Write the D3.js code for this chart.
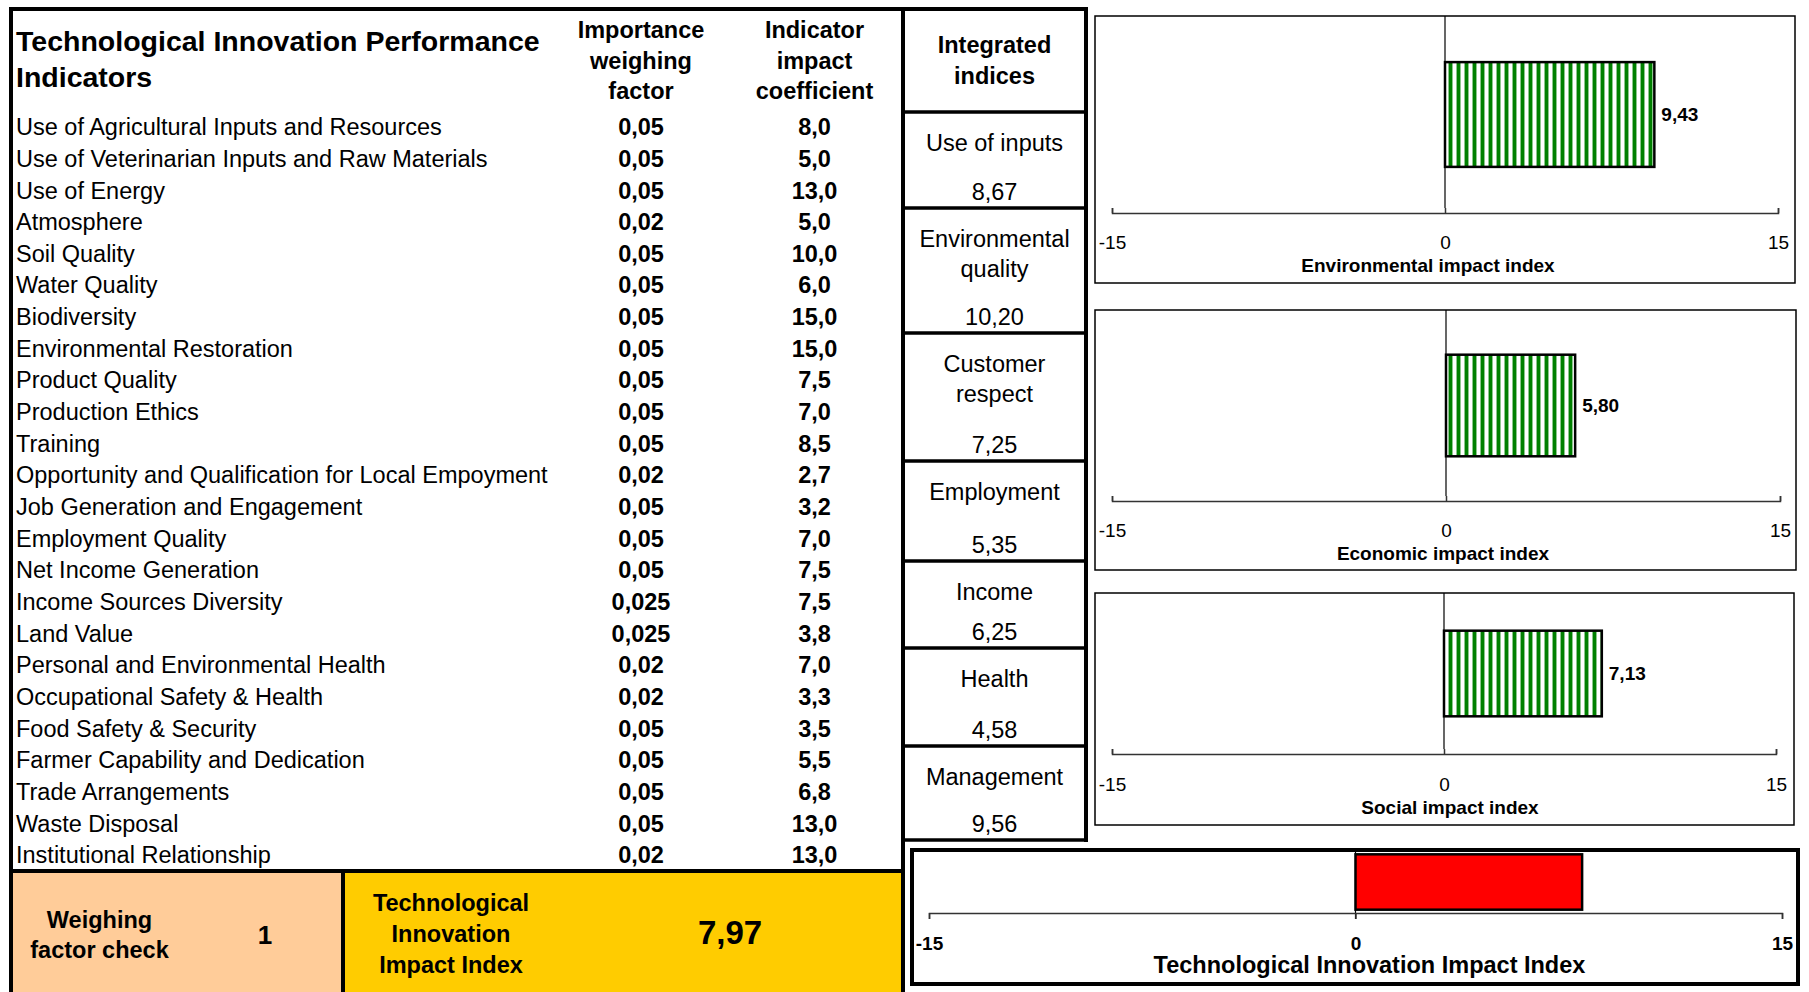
<!DOCTYPE html>
<html>
<head>
<meta charset="utf-8">
<script src="https://cdn.jsdelivr.net/npm/d3@7"></script>
<style>
  body { margin: 0; background: #fff; }
  svg { display: block; }
  text { font-family: "Liberation Sans", Arial, sans-serif; fill: #000; }
</style>
</head>
<body>
<svg id="chart" width="1809" height="992"></svg>
<script>
// ---- data ----
var indicators = [
    "Use of Agricultural Inputs and Resources",
    "Use of Veterinarian Inputs and Raw Materials",
    "Use of Energy",
    "Atmosphere",
    "Soil Quality",
    "Water Quality",
    "Biodiversity",
    "Environmental Restoration",
    "Product Quality",
    "Production Ethics",
    "Training",
    "Opportunity and Qualification for Local Empoyment",
    "Job Generation and Engagement",
    "Employment Quality",
    "Net Income Generation",
    "Income Sources Diversity",
    "Land Value",
    "Personal and Environmental Health",
    "Occupational Safety & Health",
    "Food Safety & Security",
    "Farmer Capability and Dedication",
    "Trade Arrangements",
    "Waste Disposal",
    "Institutional Relationship"
];
var weights = [0.05, 0.05, 0.05, 0.02, 0.05, 0.05, 0.05, 0.05, 0.05, 0.05, 0.05, 0.02,
               0.05, 0.05, 0.05, 0.025, 0.025, 0.02, 0.02, 0.05, 0.05, 0.05, 0.05, 0.02];
var coefficients = [8.0, 5.0, 13.0, 5.0, 10.0, 6.0, 15.0, 15.0, 7.5, 7.0, 8.5, 2.7,
                    3.2, 7.0, 7.5, 7.5, 3.8, 7.0, 3.3, 3.5, 5.5, 6.8, 13.0, 13.0];

var indexNames = ["Use of inputs", "Environmental quality", "Customer respect",
                  "Employment", "Income", "Health", "Management"];
var indexValues = [8.67, 10.20, 7.25, 5.35, 6.25, 4.58, 9.56];

var impactNames = ["Environmental impact index", "Economic impact index", "Social impact index"];
var impactValues = [9.43, 5.80, 7.13];
var tiName = "Technological Innovation Impact Index";
var tiValue = 7.97;
var xTicks = [-15, 0, 15];

var tableTitle = ["Technological Innovation Performance", "Indicators"];
var columnHeads = [["Importance", "weighing", "factor"], ["Indicator", "impact", "coefficient"]];

// ---- layout ----
var FS = 23.5;
var rowTop = 127, rowBottom = 855;
var colWeight = 641, colCoef = 814.5;
var indexLeft = 903, indexRight = 1086;
var indexEdges = [112, 208, 333, 461, 561, 648, 746, 840];

var locale = d3.formatLocale({decimal: ",", thousands: ".", grouping: [3], currency: ["", ""]});
var f1 = locale.format(".1f"), f2 = locale.format(".2f");

var svg = d3.select("#chart");

// excel-like "wide vertical" stripe fill
var defs = svg.append("defs");
var pat = defs.append("pattern")
    .attr("id", "stripes")
    .attr("patternUnits", "userSpaceOnUse")
    .attr("width", 8).attr("height", 10);
pat.append("rect").attr("width", 8).attr("height", 10).attr("fill", "#fff");
pat.append("rect").attr("x", 0).attr("width", 5).attr("height", 10).attr("fill", "#8cc68c");
pat.append("rect").attr("x", 1).attr("width", 3).attr("height", 10).attr("fill", "#008000");

function label(g, x, y, txt, size, bold, anchor) {
    return g.append("text")
        .attr("x", x).attr("y", y).attr("dy", "0.35em")
        .attr("text-anchor", anchor || "start")
        .style("font-size", size + "px")
        .style("font-weight", bold ? "bold" : "normal")
        .text(txt);
}

// ---- table ----
var table = svg.append("g");

table.append("rect").attr("x", 13).attr("y", 873).attr("width", 328).attr("height", 130).attr("fill", "#FFCC99");
table.append("rect").attr("x", 345).attr("y", 873).attr("width", 556).attr("height", 130).attr("fill", "#FFCC00");

tableTitle.forEach(function (t, i) {
    label(table, 16, 41.5 + i * 35.5, t, 28.5, true);
});
columnHeads.forEach(function (lines, c) {
    lines.forEach(function (t, i) {
        label(table, c === 0 ? colWeight : colCoef, 30 + i * 30.5, t, FS, true, "middle");
    });
});

var yRow = d3.scalePoint().domain(d3.range(indicators.length)).range([rowTop, rowBottom]);

table.selectAll(".ind").data(indicators).enter().append("text")
    .attr("class", "ind")
    .attr("x", 16).attr("y", function (d, i) { return yRow(i); }).attr("dy", "0.35em")
    .style("font-size", FS + "px")
    .text(function (d) { return d; });

table.selectAll(".w").data(weights).enter().append("text")
    .attr("class", "w")
    .attr("x", colWeight).attr("y", function (d, i) { return yRow(i); }).attr("dy", "0.35em")
    .attr("text-anchor", "middle")
    .style("font-size", FS + "px").style("font-weight", "bold")
    .text(function (d) { return String(d).replace(".", ","); });

table.selectAll(".c").data(coefficients).enter().append("text")
    .attr("class", "c")
    .attr("x", colCoef).attr("y", function (d, i) { return yRow(i); }).attr("dy", "0.35em")
    .attr("text-anchor", "middle")
    .style("font-size", FS + "px").style("font-weight", "bold")
    .text(function (d) { return f1(d); });

// integrated indices column
var cx = (indexLeft + indexRight) / 2;
label(table, cx, 45, "Integrated", FS, true, "middle");
label(table, cx, 76, "indices", FS, true, "middle");

indexNames.forEach(function (name, i) {
    var top = indexEdges[i], bottom = indexEdges[i + 1];
    var t = label(table, cx, top + 31, name, FS, false, "middle");
    if (t.node().getComputedTextLength() > 170) {
        var words = name.split(" ");
        t.text(words[0]);
        label(table, cx, top + 61, words.slice(1).join(" "), FS, false, "middle");
    }
    label(table, cx, bottom - 16, f2(indexValues[i]), FS, false, "middle");
});

// bottom boxes
var check = Math.round(d3.sum(weights) * 1000) / 1000;
label(table, 99.5, 919.5, "Weighing", FS, true, "middle");
label(table, 99.5, 949.5, "factor check", FS, true, "middle");
label(table, 265, 934.5, check, 26, true, "middle");
["Technological", "Innovation", "Impact Index"].forEach(function (t, i) {
    label(table, 451, 903 + i * 30.8, t, FS, true, "middle");
});
label(table, 730, 932, f2(tiValue), 33, true, "middle");

// borders
var lines = table.append("g").attr("stroke", "#000").attr("fill", "none");
lines.append("path").attr("stroke-width", 4).attr("d", "M9,9H" + (indexRight + 2));
lines.append("path").attr("stroke-width", 4).attr("d", "M11,7V992");
lines.append("path").attr("stroke-width", 4).attr("d", "M" + indexLeft + ",7V992");
lines.append("path").attr("stroke-width", 4).attr("d", "M" + indexRight + ",7V" + (indexEdges[7] + 2));
indexEdges.forEach(function (y) {
    lines.append("path").attr("stroke-width", 3.5).attr("d", "M" + indexLeft + "," + y + "H" + (indexRight + 2));
});
lines.append("path").attr("stroke-width", 4).attr("d", "M9,871H" + (indexLeft + 2));
lines.append("path").attr("stroke-width", 4).attr("d", "M343,871V992");

// ---- impact charts ----
var chartBoxes = [
    {x0: 1095, y0: 16,  x1: 1795, y1: 283, axisY: 213, r: [1112, 1778], tickY: 242, titleY: 265, shift: -17},
    {x0: 1095, y0: 310, x1: 1796, y1: 570, axisY: 501, r: [1112, 1780], tickY: 530, titleY: 553, shift: -3},
    {x0: 1095, y0: 593, x1: 1794, y1: 825, axisY: 754, r: [1112, 1776], tickY: 784, titleY: 807, shift: 6}
];

function drawChart(b, name, value, opt) {
    var g = svg.append("g");
    g.append("rect")
        .attr("x", b.x0).attr("y", b.y0)
        .attr("width", b.x1 - b.x0).attr("height", b.y1 - b.y0)
        .attr("fill", "#fff").attr("stroke", "#000").attr("stroke-width", opt.frame);

    var x = d3.scaleLinear().domain([-15, 15]).range(b.r);
    var y = d3.scaleBand().domain([name]).range([b.plotTop, b.axisY])
        .paddingInner(0).paddingOuter(opt.pad);

    g.append("line")
        .attr("x1", x(0)).attr("x2", x(0))
        .attr("y1", b.plotTop).attr("y2", b.axisY + opt.tick)
        .attr("stroke", "#000").attr("stroke-width", 1.2);

    var axis = d3.axisBottom(x).tickValues(xTicks)
        .tickSizeInner(opt.tick).tickSizeOuter(opt.tick)
        .tickFormat(function (d) { return String(d); });
    var ag = g.append("g").attr("transform", "translate(0," + b.axisY + ")").call(axis);
    ag.select(".domain").attr("stroke", "#333").attr("stroke-width", 1.5);
    ag.selectAll(".tick line").attr("stroke", "#333").attr("stroke-width", 1.5);
    ag.selectAll(".tick text")
        .attr("y", b.tickY - b.axisY).attr("dy", "0.35em")
        .attr("fill", "#000")
        .style("font-family", "'Liberation Sans', Arial, sans-serif")
        .style("font-size", "19px")
        .style("font-weight", opt.boldTicks ? "bold" : "normal");

    g.append("rect")
        .attr("x", x(0)).attr("y", y(name))
        .attr("width", x(value) - x(0)).attr("height", y.bandwidth())
        .attr("fill", opt.fill).attr("stroke", "#000").attr("stroke-width", 2.5);

    if (opt.showValue) {
        label(g, x(value) + 7, y(name) + y.bandwidth() / 2, f2(value), 19, true);
    }
    label(g, x(0) + (b.shift || 0), b.titleY, name, opt.titleSize, true, "middle");
}

impactNames.forEach(function (name, i) {
    var b = chartBoxes[i];
    b.plotTop = b.y0;
    drawChart(b, name, impactValues[i], {
        frame: 1.5, pad: 0.44, tick: -5, fill: "url(#stripes)",
        showValue: true, titleSize: 19, boldTicks: false
    });
});

var tiBox = {x0: 912, y0: 850, x1: 1798, y1: 984, axisY: 913, r: [929, 1782], tickY: 943, titleY: 965, plotTop: 851, shift: 14};
drawChart(tiBox, tiName, tiValue, {
    frame: 4, pad: 0.06, tick: 6, fill: "#FF0000",
    showValue: false, titleSize: 23.5, boldTicks: true
});
</script>
</body>
</html>
